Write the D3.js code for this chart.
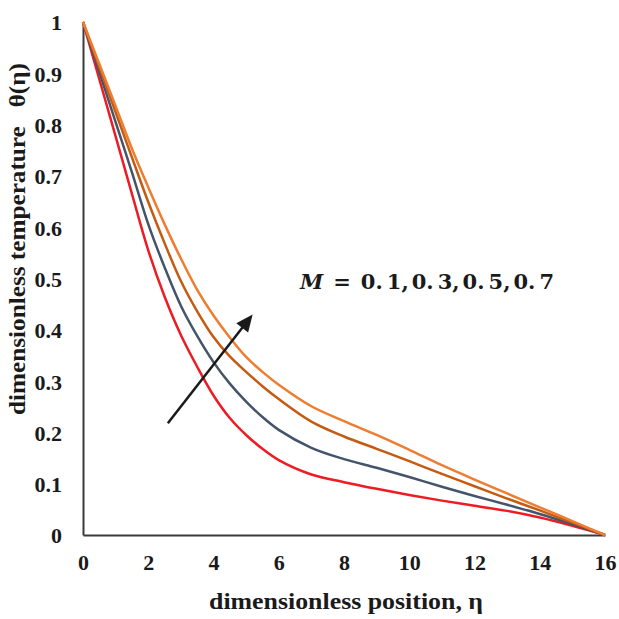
<!DOCTYPE html>
<html>
<head>
<meta charset="utf-8">
<script src="https://cdn.jsdelivr.net/npm/d3@7"></script>
<style>
  html, body { margin: 0; padding: 0; background: #fff; }
  svg { display: block; }
</style>
</head>
<body>
<svg id="chart" width="619" height="619"></svg>
<script>
// Temperature profiles θ(η) for several values of the parameter M
const eta = [0, 1, 1.5, 2, 2.5, 3, 3.5, 4, 4.5, 5, 5.5, 6, 7, 8, 9, 10, 11, 12, 13, 14, 15, 16];
const thetaM01 = [1, 0.777, 0.665, 0.555, 0.465, 0.39, 0.328, 0.272, 0.228, 0.195, 0.168, 0.146,
                  0.118, 0.103, 0.090, 0.078, 0.067, 0.057, 0.047, 0.034, 0.018, 0];
const thetaM03 = [1, 0.805, 0.707, 0.606, 0.522, 0.447, 0.388, 0.337, 0.295, 0.26, 0.23, 0.205,
                  0.170, 0.148, 0.131, 0.113, 0.094, 0.076, 0.059, 0.041, 0.021, 0];
const thetaM05 = [1, 0.824, 0.736, 0.649, 0.569, 0.495, 0.436, 0.386, 0.348, 0.318, 0.29, 0.265,
                  0.221, 0.192, 0.168, 0.144, 0.119, 0.095, 0.071, 0.048, 0.024, 0];
const thetaM07 = [1, 0.836, 0.753, 0.678, 0.606, 0.539, 0.478, 0.428, 0.385, 0.347, 0.318, 0.293,
                  0.251, 0.222, 0.195, 0.166, 0.136, 0.108, 0.081, 0.054, 0.027, 0];

const seriesNames = ["M = 0.1", "M = 0.3", "M = 0.5", "M = 0.7"];
const seriesValues = [thetaM01, thetaM03, thetaM05, thetaM07];
const seriesColors = ["#ED1C24", "#44546A", "#C55A11", "#ED7D31"];

const xTicks = [0, 2, 4, 6, 8, 10, 12, 14, 16];
const yTicks = [0, 0.1, 0.2, 0.3, 0.4, 0.5, 0.6, 0.7, 0.8, 0.9, 1];

const SERIF = "Liberation Serif";

const svg = d3.select("#chart");

const x = d3.scaleLinear().domain([0, 16]).range([83, 605]);
const y = d3.scaleLinear().domain([0, 1]).range([535, 22]);

// axes (lines only, no tick marks)
const xAxis = svg.append("g")
  .attr("transform", `translate(0,${y(0)})`)
  .call(d3.axisBottom(x).tickValues(xTicks).tickSize(0).tickPadding(19).tickFormat(d3.format("d")));
const yAxis = svg.append("g")
  .attr("transform", `translate(${x(0)},0)`)
  .call(d3.axisLeft(y).tickValues(yTicks).tickSize(0).tickPadding(21).tickFormat(d => d === 0 || d === 1 ? d3.format("d")(d) : d3.format(".1f")(d)));

[xAxis, yAxis].forEach(g => {
  g.attr("font-family", SERIF);
  g.select(".domain").attr("stroke", "#3a3a3a").attr("stroke-width", 2);
  g.selectAll("text")
    .style("font-family", SERIF)
    .style("font-weight", "bold")
    .style("font-size", "22px")
    .attr("fill", "#1a1a1a");
});
yAxis.selectAll("text").attr("dy", "0.36em");

// curves
const line = d3.line()
  .x((d, i) => x(eta[i]))
  .y(d => y(d))
  .curve(d3.curveCatmullRom.alpha(0.5));

svg.append("g").selectAll("path")
  .data(seriesValues)
  .join("path")
  .attr("d", line)
  .attr("fill", "none")
  .attr("stroke", (d, i) => seriesColors[i])
  .attr("stroke-width", 2.5)
  .attr("stroke-linejoin", "round");

// direction arrow for increasing M
const arrowFrom = [2.6, 0.218];
const arrowTo = [5.2, 0.43];
const x1 = x(arrowFrom[0]), y1 = y(arrowFrom[1]);
const x2 = x(arrowTo[0]), y2 = y(arrowTo[1]);
const ang = Math.atan2(y2 - y1, x2 - x1);
const headLen = 17, headHalf = 7.5;
const bx = x2 - headLen * Math.cos(ang), by = y2 - headLen * Math.sin(ang);
svg.append("line")
  .attr("x1", x1).attr("y1", y1)
  .attr("x2", bx + 3 * Math.cos(ang)).attr("y2", by + 3 * Math.sin(ang))
  .attr("stroke", "#1a1a1a").attr("stroke-width", 2.5);
svg.append("path")
  .attr("d", `M${x2},${y2} L${bx - headHalf * Math.sin(ang)},${by + headHalf * Math.cos(ang)} L${bx + headHalf * Math.sin(ang)},${by - headHalf * Math.cos(ang)} Z`)
  .attr("fill", "#1a1a1a");

// parameter annotation
const ann = svg.append("text")
  .attr("x", 300).attr("y", 289)
  .style("font-family", "DejaVu Serif")
  .style("font-weight", "bold")
  .style("font-size", "21px")
  .attr("fill", "#1a1a1a");
ann.append("tspan").attr("font-style", "italic").text("M");
ann.append("tspan").attr("dx", 10).text("=");
const vals = ["0.1", "0.3", "0.5", "0.7"];
vals.forEach((v, i) => {
  ann.append("tspan").attr("dx", i === 0 ? 10 : 3).text("0.");
  ann.append("tspan").attr("dx", 4).text(v.slice(2) + (i < vals.length - 1 ? "," : ""));
});

// axis titles
svg.append("text")
  .attr("x", 209).attr("y", 609)
  .style("font-family", SERIF)
  .style("font-weight", "bold")
  .style("font-size", "24px")
  .attr("textLength", 274)
  .attr("lengthAdjust", "spacingAndGlyphs")
  .attr("fill", "#1a1a1a")
  .text("dimensionless position, η");

svg.append("text")
  .attr("transform", "translate(25,415) rotate(-90)")
  .style("font-family", SERIF)
  .style("font-weight", "bold")
  .style("font-size", "24px")
  .attr("textLength", 352)
  .attr("lengthAdjust", "spacingAndGlyphs")
  .attr("fill", "#1a1a1a")
  .style("white-space", "pre")
  .text("dimensionless temperature   θ(η)");
</script>
</body>
</html>
